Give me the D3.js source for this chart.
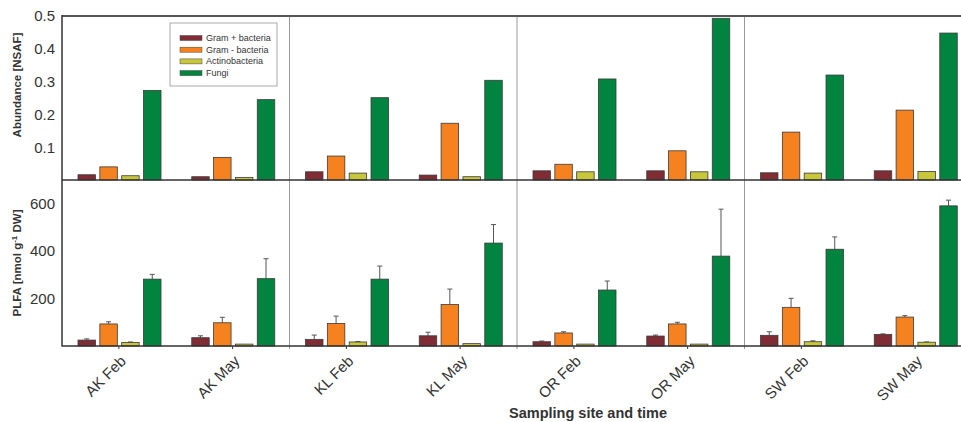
<!DOCTYPE html>
<html>
<head>
<meta charset="utf-8">
<script src="https://cdn.jsdelivr.net/npm/d3@7"></script>
<style>
  body { margin: 0; background: #fff; }
  svg { display: block; font-family: "Liberation Sans", Arial, sans-serif; }
</style>
</head>
<body>
<div id="chart"></div>
<script>
const samples = ["AK Feb", "AK May", "KL Feb", "KL May", "OR Feb", "OR May", "SW Feb", "SW May"];
const groups = ["Gram + bacteria", "Gram - bacteria", "Actinobacteria", "Fungi"];
const colors = ["#7f2c34", "#f5821f", "#c8c63a", "#00843f"];

// abundance [NSAF], one array per group
const nsafGramPos = [0.016, 0.010, 0.025, 0.015, 0.028, 0.028, 0.022, 0.028];
const nsafGramNeg = [0.040, 0.069, 0.073, 0.173, 0.048, 0.089, 0.146, 0.213];
const nsafActino  = [0.013, 0.008, 0.021, 0.010, 0.025, 0.025, 0.021, 0.026];
const nsafFungi   = [0.273, 0.245, 0.251, 0.304, 0.308, 0.493, 0.320, 0.448];

// PLFA [nmol g-1 DW], means and upper error values
const plfaGramPos = [25, 35, 28, 43, 18, 42, 45, 49];
const plfaGramNeg = [93, 98, 95, 175, 55, 93, 163, 122];
const plfaActino  = [15, 8, 17, 10, 8, 8, 18, 16];
const plfaFungi   = [282, 284, 282, 434, 236, 379, 408, 591];
const errGramPos = [5, 8, 18, 15, 3, 4, 15, 2];
const errGramNeg = [9, 23, 31, 65, 5, 7, 38, 6];
const errActino  = [2, 0, 2, 0, 0, 0, 4, 1];
const errFungi   = [20, 84, 55, 78, 38, 198, 52, 24];

const nsafTicks = [0.1, 0.2, 0.3, 0.4, 0.5];
const plfaTicks = [200, 400, 600];

const width = 961;
const height = 422;
const left = 62;

const svg = d3.select("#chart").append("svg")
  .attr("width", width)
  .attr("height", height);

const x = d3.scaleBand()
  .domain(samples)
  .range([left, 972]);

const xInner = d3.scaleBand()
  .domain(groups)
  .range([16, 99])
  .paddingInner(0.2);

const yTop = d3.scaleLinear().domain([0, 0.5]).range([180, 16]);
const yBot = d3.scaleLinear().domain([0, 700]).range([346, 180]);

const nsaf = [nsafGramPos, nsafGramNeg, nsafActino, nsafFungi];
const plfa = [plfaGramPos, plfaGramNeg, plfaActino, plfaFungi];
const errs = [errGramPos, errGramNeg, errActino, errFungi];

function flat(arrays, extra) {
  const out = [];
  samples.forEach((s, i) => {
    groups.forEach((g, j) => {
      out.push({sample: s, group: g, color: colors[j], value: arrays[j][i], err: extra ? extra[j][i] : 0});
    });
  });
  return out;
}

// site separators
svg.append("g")
  .selectAll("line")
  .data(["KL Feb", "OR Feb", "SW Feb"])
  .join("line")
  .attr("x1", d => x(d))
  .attr("x2", d => x(d))
  .attr("y1", 16)
  .attr("y2", 349)
  .attr("stroke", "#9a9a9a")
  .attr("stroke-width", 1);

function panel(data, y, ticks, fmt, withErr) {
  const g = svg.append("g");

  if (withErr) {
    const eb = g.append("g")
      .attr("stroke", "#555")
      .attr("stroke-width", 1)
      .selectAll("g")
      .data(data.filter(d => d.err > 0))
      .join("g")
      .attr("transform", d => `translate(${x(d.sample) + xInner(d.group) + xInner.bandwidth() / 2},0)`);
    eb.append("line")
      .attr("y1", d => y(d.value))
      .attr("y2", d => y(d.value + d.err));
    eb.append("line")
      .attr("x1", -2.5).attr("x2", 2.5)
      .attr("y1", d => y(d.value + d.err))
      .attr("y2", d => y(d.value + d.err));
  }

  g.append("g")
    .selectAll("rect")
    .data(data)
    .join("rect")
    .attr("x", d => x(d.sample) + xInner(d.group))
    .attr("y", d => y(d.value))
    .attr("width", xInner.bandwidth())
    .attr("height", d => y(0) - y(d.value))
    .attr("fill", d => d.color)
    .attr("stroke", "#3a3a3a")
    .attr("stroke-width", 0.8);

  const axis = d3.axisLeft(y)
    .tickValues(ticks)
    .tickFormat(fmt)
    .tickSize(0)
    .tickPadding(7);

  const ag = g.append("g")
    .attr("transform", `translate(${left},0)`)
    .call(axis);
  ag.select(".domain").remove();
  ag.selectAll("text")
    .attr("font-size", 15)
    .attr("font-family", "'Liberation Sans', Arial, sans-serif")
    .attr("fill", "#333");

  // baseline
  g.append("line")
    .attr("x1", left).attr("x2", width)
    .attr("y1", y(0)).attr("y2", y(0))
    .attr("stroke", "#333")
    .attr("stroke-width", 1.5);
}

panel(flat(nsaf), yTop, nsafTicks, d3.format(".1f"), false);
panel(flat(plfa, errs), yBot, plfaTicks, d3.format("d"), true);

// frame: top and left
svg.append("line")
  .attr("x1", left).attr("x2", width)
  .attr("y1", 16).attr("y2", 16)
  .attr("stroke", "#555").attr("stroke-width", 2);
svg.append("line")
  .attr("x1", left).attr("x2", left)
  .attr("y1", 15).attr("y2", 346.5)
  .attr("stroke", "#333").attr("stroke-width", 1.5);

// x ticks and labels
const xt = svg.append("g")
  .selectAll("g")
  .data(samples)
  .join("g")
  .attr("transform", d => `translate(${x(d) + x.bandwidth() / 2},346)`);
xt.append("line")
  .attr("y1", 0).attr("y2", 3)
  .attr("stroke", "#333");
xt.append("text")
  .attr("transform", "translate(8,16) rotate(-45)")
  .attr("text-anchor", "end")
  .attr("font-size", 15)
  .attr("fill", "#333")
  .text(d => d);

// axis titles
svg.append("text")
  .attr("x", 588)
  .attr("y", 418)
  .attr("text-anchor", "middle")
  .attr("font-size", 14.5)
  .attr("font-weight", "bold")
  .attr("fill", "#333")
  .text("Sampling site and time");

svg.append("text")
  .attr("transform", "translate(21,85) rotate(-90)")
  .attr("text-anchor", "middle")
  .attr("font-size", 11.5)
  .attr("font-weight", "bold")
  .attr("fill", "#333")
  .text("Abundance [NSAF]");

const plfaTitle = svg.append("text")
  .attr("transform", "translate(21,263) rotate(-90)")
  .attr("text-anchor", "middle")
  .attr("font-size", 11.5)
  .attr("font-weight", "bold")
  .attr("fill", "#333");
plfaTitle.append("tspan").text("PLFA [nmol g");
plfaTitle.append("tspan").attr("dy", -4).attr("font-size", 8).text("-1");
plfaTitle.append("tspan").attr("dy", 4).text(" DW]");

// legend
const legend = svg.append("g").attr("transform", "translate(170,23)");
legend.append("rect")
  .attr("width", 107)
  .attr("height", 63)
  .attr("fill", "#fff")
  .attr("stroke", "#aaa");
const li = legend.selectAll("g.item")
  .data(groups)
  .join("g")
  .attr("class", "item")
  .attr("transform", (d, i) => `translate(10,${15 + i * 11.7})`);
li.append("rect")
  .attr("y", -2.5)
  .attr("width", 22)
  .attr("height", 5)
  .attr("fill", (d, i) => colors[i])
  .attr("stroke", "#444")
  .attr("stroke-width", 0.5);
li.append("text")
  .attr("x", 26)
  .attr("y", 3)
  .attr("font-size", 9)
  .attr("fill", "#333")
  .text(d => d);
</script>
</body>
</html>
